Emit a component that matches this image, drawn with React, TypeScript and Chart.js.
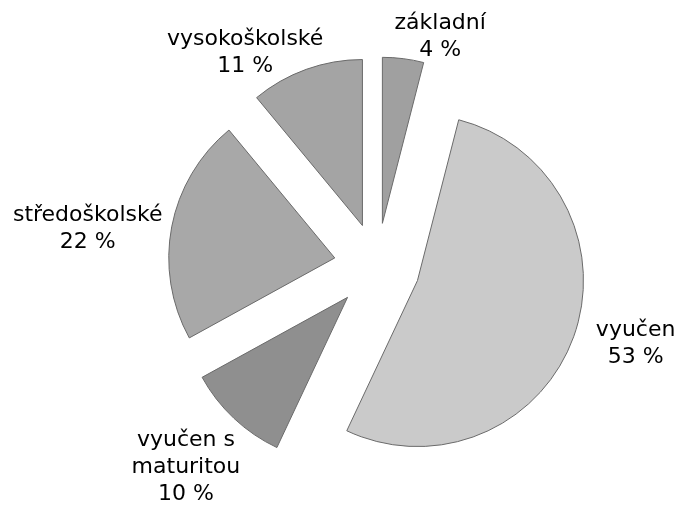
import React, { useEffect, useRef } from 'react';
import { Chart, registerables } from 'chart.js';

Chart.register(...registerables);

// ---- data ----
const categories = ['základní', 'vyučen', 'vyučen s maturitou', 'středoškolské', 'vysokoškolské'];
const labelNames = [['základní'], ['vyučen'], ['vyučen s', 'maturitou'], ['středoškolské'], ['vysokoškolské']];
const values = [4, 53, 10, 22, 11];

// ---- styles ----
const sliceColors = ['#a0a0a0', '#cacaca', '#8f8f8f', '#a8a8a8', '#a4a4a4'];
const EXPLODE = 43; // px each slice is pulled out from the centre
const PIE_RADIUS = 166;
// label block offset (px) from the outer mid-point of its exploded slice
const labelNudges: [number, number][] = [[37, -22], [62, 7], [-48, 49], [-84, 2], [-61, -17]];
const FONT = '22px "DejaVu Sans", sans-serif';
const LINE_H = 27;

const explodePlugin = {
  id: 'explodeSlices',
  beforeDatasetsDraw(chart: any) {
    const ctx = chart.ctx;
    const meta = chart.getDatasetMeta(0);
    meta.data.forEach((arc: any) => {
      const p = arc.getProps(['startAngle', 'endAngle'], true);
      const mid = (p.startAngle + p.endAngle) / 2;
      ctx.save();
      ctx.translate(Math.cos(mid) * EXPLODE, Math.sin(mid) * EXPLODE);
      arc.draw(ctx, chart.chartArea);
      ctx.restore();
    });
    return false;
  },
};

const labelPlugin = {
  id: 'outsideLabels',
  afterDraw(chart: any) {
    const meta = chart.getDatasetMeta(0);
    const ctx = chart.ctx;
    ctx.save();
    ctx.font = FONT;
    ctx.fillStyle = '#000';
    ctx.textAlign = 'center';
    ctx.textBaseline = 'middle';
    meta.data.forEach((arc: any, i: number) => {
      const p = arc.getProps(['x', 'y', 'startAngle', 'endAngle', 'outerRadius'], true);
      const mid = (p.startAngle + p.endAngle) / 2;
      const dist = p.outerRadius + EXPLODE;
      const cx = p.x + Math.cos(mid) * dist + labelNudges[i][0];
      const cy = p.y + Math.sin(mid) * dist + labelNudges[i][1];
      const lines = [...labelNames[i], `${values[i]} %`];
      const h = lines.length * LINE_H;
      lines.forEach((l, k) => {
        ctx.fillText(l, cx, cy - h / 2 + LINE_H / 2 + k * LINE_H);
      });
    });
    ctx.restore();
  },
};

export default function App() {
  const ref = useRef<HTMLCanvasElement>(null);
  useEffect(() => {
    if (!ref.current) return;
    const chart = new Chart(ref.current, {
      type: 'pie',
      data: {
        labels: categories,
        datasets: [
          {
            data: values,
            backgroundColor: sliceColors,
            borderColor: '#6a6a6a',
            borderWidth: 1,
          },
        ],
      },
      options: {
        animation: false,
        responsive: true,
        maintainAspectRatio: false,
        devicePixelRatio: 1,
        radius: PIE_RADIUS,
        layout: { padding: { left: 76, top: 26, right: 0, bottom: 0 } },
        plugins: {
          legend: { display: false },
          tooltip: { enabled: false },
        },
      } as any,
      plugins: [explodePlugin, labelPlugin],
    });
    return () => chart.destroy();
  }, []);
  return (
    <div style={{ position: 'fixed', left: 0, top: 0, width: 678, height: 506, background: '#fff' }}>
      <canvas ref={ref} />
    </div>
  );
}
